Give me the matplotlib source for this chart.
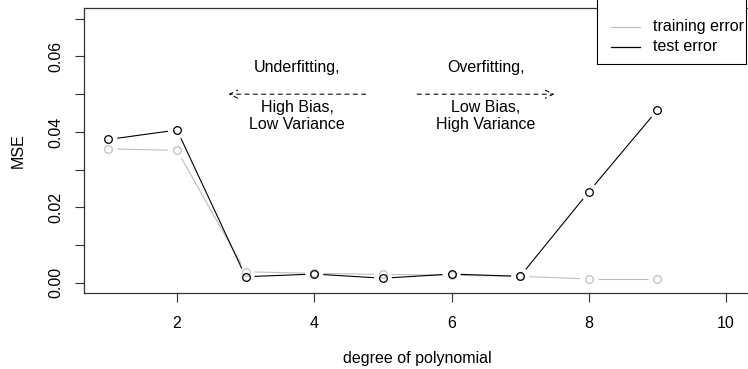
import matplotlib
matplotlib.use("Agg")
import matplotlib.pyplot as plt
from matplotlib.lines import Line2D
from matplotlib.patches import Rectangle
import numpy as np

plt.rcParams['font.family'] = ['Liberation Sans', 'DejaVu Sans']
plt.rcParams['font.size'] = 11.5

# polynomial degree vs. mean squared error
degree = [1, 2, 3, 4, 5, 6, 7, 8, 9]
train_mse = [0.0355, 0.0351, 0.0029, 0.0025, 0.0022, 0.0020, 0.0017, 0.0010, 0.0010]
test_mse = [0.0380, 0.0405, 0.0016, 0.0023, 0.0012, 0.0023, 0.0017, 0.0241, 0.0458]

GRAY = '#BEBEBE'
W, H = 748, 369

fig = plt.figure(figsize=(W / 100, H / 100), dpi=100)
ax = fig.add_axes([83.7 / W, 1 - 293.3 / H, 667.0 / W, 285.1 / H])
ax.set_xlim(0.64, 10.36)
ax.set_ylim(-0.0028, 0.0728)


def type_b(x, y, color, gap=9.0):
    # lines between points with a gap around each point, then open circles
    pts = ax.transData.transform(np.column_stack([x, y]))
    inv = ax.transData.inverted()
    for p0, p1 in zip(pts[:-1], pts[1:]):
        d = p1 - p0
        L = np.hypot(*d)
        if L <= 2 * gap:
            continue
        u = d / L
        seg = inv.transform(np.array([p0 + u * gap, p1 - u * gap]))
        ax.plot(seg[:, 0], seg[:, 1], color=color, lw=0.8, solid_capstyle='butt')
    ax.plot(x, y, ls='none', marker='o', ms=5.5, mfc='none', mec=color, mew=0.9)


type_b(degree, train_mse, GRAY)
type_b(degree, test_mse, 'black')

# axes styling
ax.set_xticks([2, 4, 6, 8, 10])
yt = [0.00, 0.01, 0.02, 0.03, 0.04, 0.05, 0.06, 0.07]
ax.set_yticks(yt)
ax.set_yticklabels(['0.00', '', '0.02', '', '0.04', '', '0.06', ''])
ax.tick_params(axis='both', direction='out', length=6.7, width=0.8, color='#333333')
ax.tick_params(axis='x', pad=10)
ax.tick_params(axis='y', pad=8, labelrotation=90)
for lbl in ax.get_yticklabels():
    lbl.set_va('center')
for sp in ax.spines.values():
    sp.set_linewidth(0.9)
    sp.set_color('#333333')

ax.set_xlabel('degree of polynomial')
ax.xaxis.set_label_coords(0.5, -(359 - 293.3) / 285.1)
ax.xaxis.label.set_va('center')
ax.set_ylabel('MSE')
ax.yaxis.set_label_coords(-(83.7 - 18) / 667.0, 0.5)
ax.yaxis.label.set_va('center')

# annotations
arrow_kw = dict(arrowstyle='->,head_length=0.5,head_width=0.25', lw=0.75,
                linestyle=(0, (4, 4)), color='black', shrinkA=0, shrinkB=0)
ax.annotate('', xy=(2.75, 0.0500), xytext=(4.75, 0.0500), arrowprops=arrow_kw)
ax.annotate('', xy=(7.5, 0.0500), xytext=(5.5, 0.0500), arrowprops=arrow_kw)
for xc, lines in [(3.75, ['Underfitting,', 'High Bias,', 'Low Variance']),
                  (6.5, ['Overfitting,', 'Low Bias,', 'High Variance'])]:
    for yb, s in zip([0.0560, 0.0452, 0.0408], lines):
        ax.text(xc, yb, s, ha='center', va='baseline')

# legend box in the top-right corner
fig.patches.append(Rectangle((596.5 / W, 1 - 64 / H), 149 / W, 70 / H,
                             transform=fig.transFigure, facecolor='white',
                             edgecolor='black', lw=0.8))
for yy, col, name in [(26.7, GRAY, 'training error'), (46.7, 'black', 'test error')]:
    fig.lines.append(Line2D([610.5 / W, 640 / W], [1 - yy / H, 1 - yy / H],
                            transform=fig.transFigure, color=col, lw=0.9))
    fig.text(653 / W, 1 - yy / H, name, ha='left', va='center')

fig.savefig('out.png', dpi=100)
